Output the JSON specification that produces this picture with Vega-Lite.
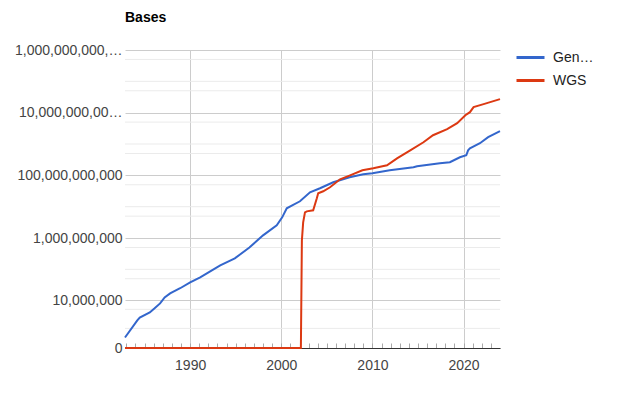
{
  "$schema": "https://vega.github.io/schema/vega-lite/v6.json",
  "width": 375,
  "height": 298,
  "autosize": {"type": "none"},
  "padding": {"left": 125, "top": 50, "right": 120, "bottom": 45},
  "background": "white",
  "config": {"view": {"stroke": null}, "font": "Arial"},
  "title": {"text": "Bases", "anchor": "start", "frame": "group", "fontSize": 14, "fontWeight": "bold", "color": "#000000", "font": "Arial", "offset": 17},
  "datasets": {
    "grid": [
      {"v": 1000000}, {"v": 5000000}, {"v": 50000000}, {"v": 100000000}, {"v": 500000000},
      {"v": 5000000000}, {"v": 10000000000}, {"v": 50000000000}, {"v": 500000000000},
      {"v": 1000000000000}, {"v": 5000000000000}, {"v": 50000000000000}, {"v": 100000000000000}, {"v": 500000000000000}
    ],
    "bases": [
      {"series": "GenBank", "year": 1982.85, "bases": 360000},
      {"series": "GenBank", "year": 1984.2, "bases": 2040000},
      {"series": "GenBank", "year": 1984.47, "bases": 2600000},
      {"series": "GenBank", "year": 1985.57, "bases": 3900000},
      {"series": "GenBank", "year": 1986.1, "bases": 5400000},
      {"series": "GenBank", "year": 1986.7, "bases": 7900000},
      {"series": "GenBank", "year": 1987.2, "bases": 12400000},
      {"series": "GenBank", "year": 1987.8, "bases": 16800000},
      {"series": "GenBank", "year": 1988.9, "bases": 24700000},
      {"series": "GenBank", "year": 1990.0, "bases": 38100000},
      {"series": "GenBank", "year": 1991.1, "bases": 55000000},
      {"series": "GenBank", "year": 1992.2, "bases": 86000000},
      {"series": "GenBank", "year": 1993.3, "bases": 134000000},
      {"series": "GenBank", "year": 1994.9, "bases": 224000000},
      {"series": "GenBank", "year": 1996.5, "bases": 500000000},
      {"series": "GenBank", "year": 1998.0, "bases": 1220000000},
      {"series": "GenBank", "year": 1999.5, "bases": 2540000000},
      {"series": "GenBank", "year": 2000.1, "bases": 4580000000},
      {"series": "GenBank", "year": 2000.6, "bases": 8900000000},
      {"series": "GenBank", "year": 2001.2, "bases": 11100000000},
      {"series": "GenBank", "year": 2002.05, "bases": 14900000000},
      {"series": "GenBank", "year": 2003.15, "bases": 28800000000},
      {"series": "GenBank", "year": 2004.25, "bases": 38700000000},
      {"series": "GenBank", "year": 2005.7, "bases": 60000000000},
      {"series": "GenBank", "year": 2007.5, "bases": 87000000000},
      {"series": "GenBank", "year": 2009.0, "bases": 108000000000},
      {"series": "GenBank", "year": 2010.0, "bases": 117000000000},
      {"series": "GenBank", "year": 2011.9, "bases": 145000000000},
      {"series": "GenBank", "year": 2014.5, "bases": 181000000000},
      {"series": "GenBank", "year": 2014.9, "bases": 195000000000},
      {"series": "GenBank", "year": 2017.4, "bases": 243000000000},
      {"series": "GenBank", "year": 2018.5, "bases": 262000000000},
      {"series": "GenBank", "year": 2019.6, "bases": 378000000000},
      {"series": "GenBank", "year": 2020.3, "bases": 438000000000},
      {"series": "GenBank", "year": 2020.5, "bases": 630000000000},
      {"series": "GenBank", "year": 2020.7, "bases": 730000000000},
      {"series": "GenBank", "year": 2021.8, "bases": 1060000000000},
      {"series": "GenBank", "year": 2022.7, "bases": 1650000000000},
      {"series": "GenBank", "year": 2024.0, "bases": 2560000000000},
      {"series": "WGS", "year": 1982.85, "bases": 0},
      {"series": "WGS", "year": 2002.15, "bases": 0},
      {"series": "WGS", "year": 2002.26, "bases": 840000000},
      {"series": "WGS", "year": 2002.4, "bases": 3170000000},
      {"series": "WGS", "year": 2002.6, "bases": 6600000000},
      {"series": "WGS", "year": 2002.8, "bases": 7100000000},
      {"series": "WGS", "year": 2003.5, "bases": 7660000000},
      {"series": "WGS", "year": 2003.9, "bases": 18500000000},
      {"series": "WGS", "year": 2004.05, "bases": 26800000000},
      {"series": "WGS", "year": 2004.6, "bases": 31000000000},
      {"series": "WGS", "year": 2005.35, "bases": 41600000000},
      {"series": "WGS", "year": 2006.45, "bases": 75000000000},
      {"series": "WGS", "year": 2007.55, "bases": 100000000000},
      {"series": "WGS", "year": 2008.9, "bases": 145000000000},
      {"series": "WGS", "year": 2010.1, "bases": 168000000000},
      {"series": "WGS", "year": 2011.6, "bases": 210000000000},
      {"series": "WGS", "year": 2012.7, "bases": 350000000000},
      {"series": "WGS", "year": 2014.15, "bases": 630000000000},
      {"series": "WGS", "year": 2015.6, "bases": 1140000000000},
      {"series": "WGS", "year": 2016.65, "bases": 1910000000000},
      {"series": "WGS", "year": 2018.2, "bases": 2970000000000},
      {"series": "WGS", "year": 2019.3, "bases": 4620000000000},
      {"series": "WGS", "year": 2020.2, "bases": 8300000000000},
      {"series": "WGS", "year": 2020.7, "bases": 10400000000000},
      {"series": "WGS", "year": 2021.1, "bases": 15000000000000},
      {"series": "WGS", "year": 2022.2, "bases": 18700000000000},
      {"series": "WGS", "year": 2024.0, "bases": 27000000000000}
    ]
  },
  "layer": [
    {
      "data": {"name": "grid"},
      "mark": {"type": "rule", "color": "#ebebeb", "strokeWidth": 1},
      "encoding": {
        "y": {"field": "v", "type": "quantitative", "title": null,
              "scale": {"type": "symlog", "constant": 310000, "domain": [0, 1000000000000000], "nice": false, "zero": false}}
      }
    },
    {
      "data": {"name": "bases"},
      "mark": {"type": "line", "strokeWidth": 2},
      "encoding": {
        "x": {"field": "year", "type": "quantitative", "title": null,
              "scale": {"domain": [1982.85, 2024.0], "nice": false, "zero": false},
              "axis": {
                "values": [1983,1984,1985,1986,1987,1988,1989,1990,1991,1992,1993,1994,1995,1996,1997,1998,1999,2000,2001,2002,2003,2004,2005,2006,2007,2008,2009,2010,2011,2012,2013,2014,2015,2016,2017,2018,2019,2020,2021,2022,2023],
                "format": "d",
                "labelExpr": "datum.value % 10 == 0 ? datum.label : ''",
                "tickSize": -5,
                "tickColor": "#aaaaaa",
                "domainColor": "#333333",
                "grid": true,
                "gridColor": "#cccccc",
                "gridOpacity": {"condition": {"test": "datum.value % 10 == 0", "value": 1}, "value": 0},
                "labelFontSize": 14,
                "labelColor": "#444444",
                "labelFont": "Arial",
                "labelPadding": 15,
                "labelFlush": false
              }},
        "y": {"field": "bases", "type": "quantitative", "title": null,
              "scale": {"type": "symlog", "constant": 310000, "domain": [0, 1000000000000000], "nice": false, "zero": false},
              "axis": {
                "values": [0, 10000000, 1000000000, 100000000000, 10000000000000, 1000000000000000],
                "format": ",d",
                "labelLimit": 110,
                "labelFontSize": 14,
                "labelColor": "#444444",
                "labelFont": "Arial",
                "ticks": false,
                "domain": false,
                "grid": true,
                "gridColor": "#cccccc",
                "labelPadding": 3
              }},
        "color": {"field": "series", "type": "nominal",
                  "scale": {"domain": ["GenBank", "WGS"], "range": ["#3366cc", "#dc3912"]},
                  "legend": {"title": null, "orient": "none", "legendX": 390, "legendY": -8,
                             "symbolType": "stroke", "symbolSize": 784, "symbolStrokeWidth": 3,
                             "labelFontSize": 14, "labelColor": "#222222", "labelFont": "Arial",
                             "labelLimit": 45, "labelOffset": 7, "rowPadding": 0}}
      }
    }
  ]
}
